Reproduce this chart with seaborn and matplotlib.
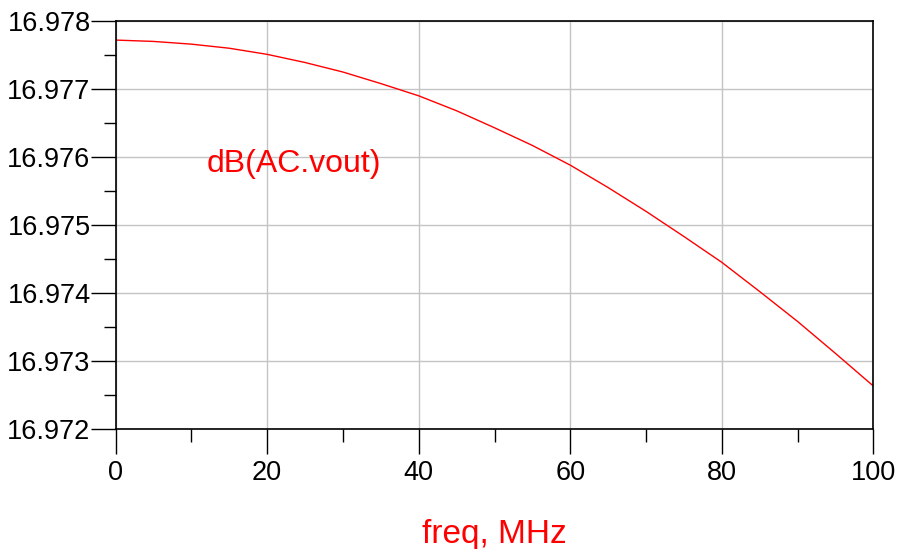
import matplotlib
matplotlib.use("Agg")
import matplotlib.pyplot as plt
from matplotlib.ticker import MultipleLocator, FormatStrFormatter
import seaborn as sns
import pandas as pd

freq_mhz = [0, 5, 10, 15, 20, 25, 30, 35, 40, 45, 50, 55, 60, 65, 70, 75, 80, 85, 90, 95, 100]
db_vout = [16.97772, 16.97770, 16.97766, 16.97760, 16.97751, 16.97739, 16.97725, 16.97708,
           16.97690, 16.97668, 16.97643, 16.97617, 16.97588, 16.97555, 16.97520, 16.97483,
           16.97445, 16.97402, 16.97358, 16.97311, 16.97263]
series_label = "dB(AC.vout)"
x_label = "freq, MHz"

sns.set_style("white")
plt.rcParams['font.family'] = ['Liberation Sans', 'DejaVu Sans']

df = pd.DataFrame({"freq": freq_mhz, "db": db_vout})

fig = plt.figure(figsize=(8.97, 5.49), dpi=100)
ax = fig.add_axes([0.1288, 0.2186, 0.8450, 0.7431])

sns.lineplot(data=df, x="freq", y="db", ax=ax, color="#ff0000", linewidth=1.0)

ax.set_xlim(0, 100)
ax.set_ylim(16.972, 16.978)
ax.xaxis.set_major_locator(MultipleLocator(20))
ax.xaxis.set_minor_locator(MultipleLocator(10))
ax.yaxis.set_major_locator(MultipleLocator(0.001))
ax.yaxis.set_minor_locator(MultipleLocator(0.0005))
ax.yaxis.set_major_formatter(FormatStrFormatter("%.3f"))

ax.grid(True, which="major", color="#c4c4c4", linewidth=1.0)
for s in ax.spines.values():
    s.set_color("black")
    s.set_linewidth(1.2)

ax.tick_params(axis="both", which="major", direction="out", length=18, width=1.0,
               color="black", labelsize=19.5, labelcolor="black")
ax.tick_params(axis="both", which="minor", direction="out", length=9, width=1.0,
               color="black")
ax.tick_params(axis="y", which="major", pad=0)
ax.tick_params(axis="x", which="major", pad=4)
ax.tick_params(left=True, bottom=True, which="both")

ax.set_xlabel(x_label, fontsize=24, color="#ff0000", labelpad=24)
ax.set_ylabel("")

ax.text(12.0, 16.97578, series_label, color="#ff0000", fontsize=23,
        ha="left", va="baseline")

fig.savefig("out.png", dpi=100)
